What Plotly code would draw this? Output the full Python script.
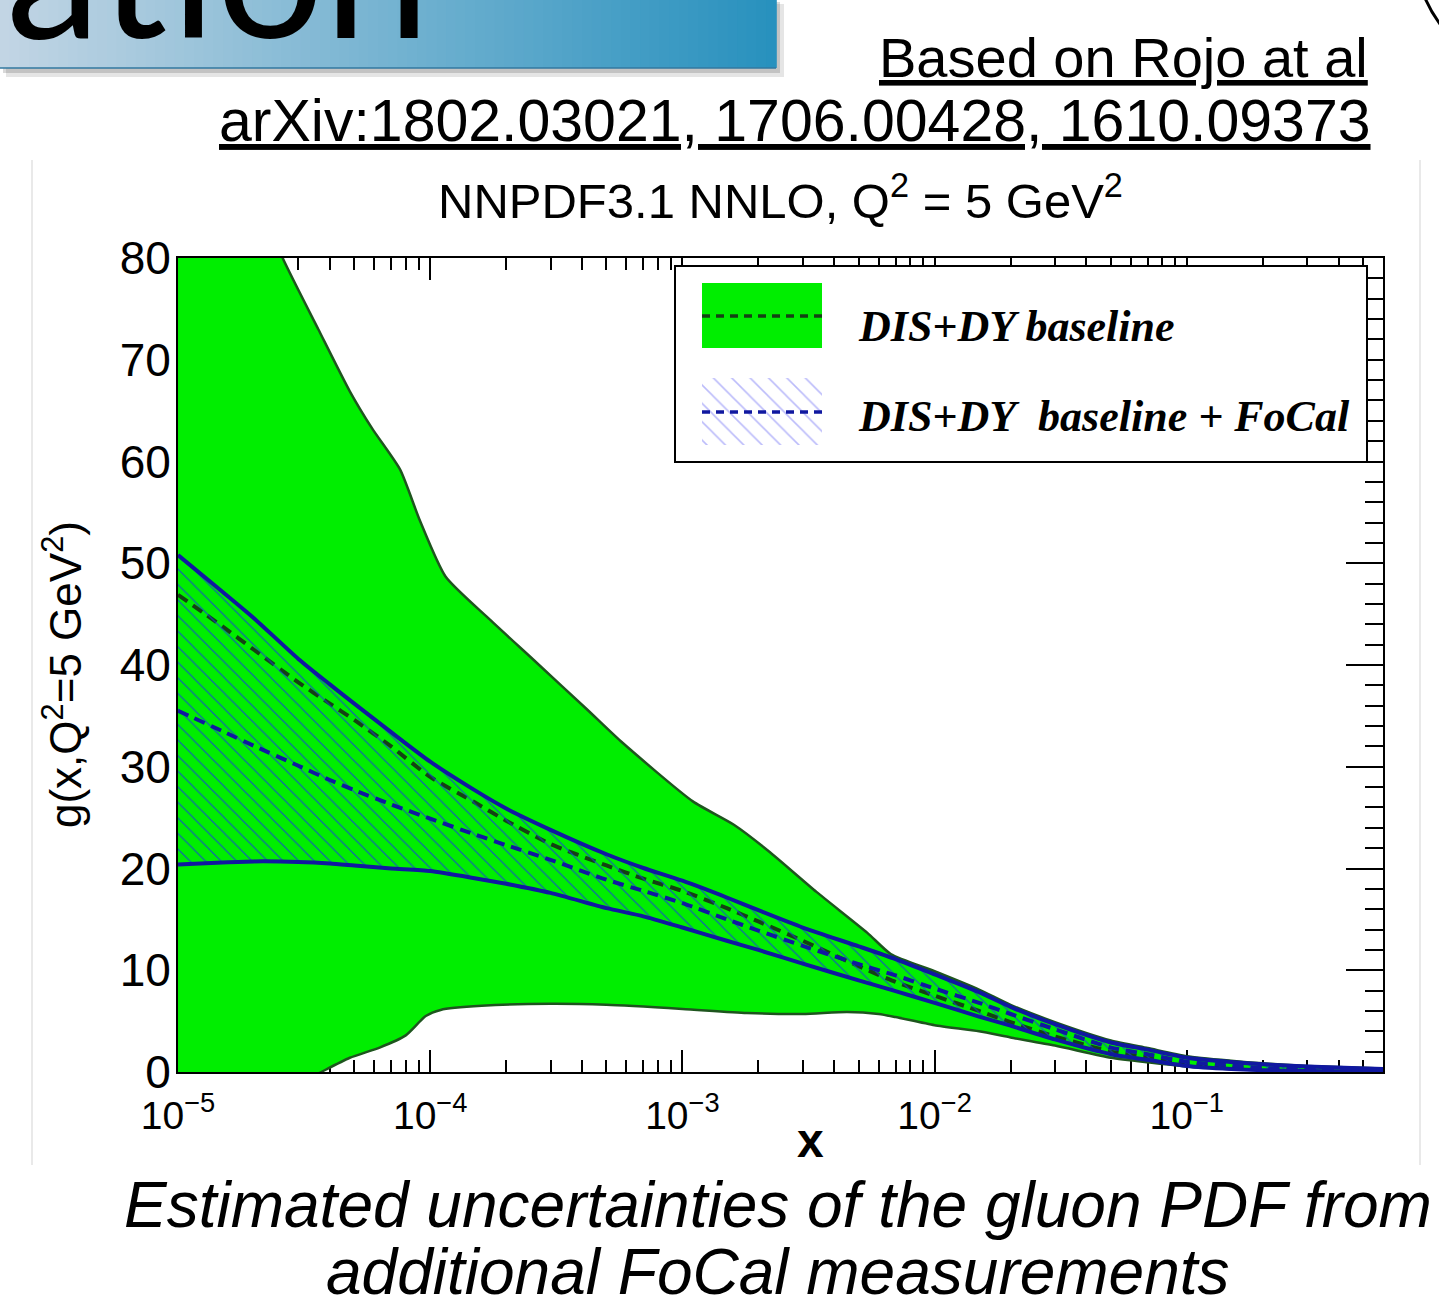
import plotly.graph_objects as go

# ---------------------------------------------------------------- data ----
# x grid shared by the central values and the FoCal band
x_grid = [1e-5, 1.5e-5, 2e-5, 3e-5, 4e-5, 5e-5, 7e-5, 1e-4, 1.5e-4, 2e-4, 3e-4,
          5e-4, 7e-4, 1e-3, 1.5e-3, 2e-3, 3e-3, 5e-3, 7e-3, 1e-2, 1.5e-2, 2e-2,
          3e-2, 5e-2, 7e-2, 0.1, 0.15, 0.2, 0.3, 0.45, 0.6]

# DIS+DY baseline + FoCal: upper / lower edge and central value
focal_upper = [50.8, 47.2, 44.6, 40.6, 38.1, 36.2, 33.4, 30.5, 27.7, 25.9, 23.8,
               21.4, 20.05, 18.8, 17.15, 15.9, 14.2, 12.35, 11.1, 9.6, 7.85, 6.4,
               4.7, 2.9, 2.2, 1.4, 0.98, 0.75, 0.55, 0.4, 0.3]
focal_lower = [20.4, 20.6, 20.7, 20.65, 20.5, 20.3, 20.0, 19.75, 19.05, 18.5, 17.6,
               16.1, 15.3, 14.2, 12.9, 12.0, 10.65, 9.0, 7.95, 6.8, 5.45, 4.55,
               3.2, 1.75, 1.2, 0.6, 0.3, 0.18, 0.1, 0.06, 0.04]
focal_central = [35.5, 33.5, 32.05, 30.1, 28.7, 27.7, 26.3, 24.9, 23.35, 22.3, 20.85,
                 18.9, 17.8, 16.6, 15.0, 13.9, 12.4, 10.6, 9.5, 8.2, 6.8, 5.7,
                 4.2, 2.4, 1.75, 1.0, 0.65, 0.38, 0.28, 0.2, 0.15]

# DIS+DY baseline central value
base_central = [46.9, 43.8, 41.5, 38.3, 36.2, 34.6, 32.0, 29.0, 26.5, 24.7, 22.4,
                20.3, 19.0, 17.8, 16.1, 14.8, 12.9, 10.4, 8.85, 7.5, 6.0, 4.9,
                3.5, 2.0, 1.4, 0.8, 0.45, 0.28, 0.18, 0.12, 0.1]

# DIS+DY baseline band edges (own x sampling)
base_upper_x = [1e-5, 1.5e-5, 2e-5, 2.6e-5, 3.6e-5, 4.8e-5, 5.9e-5, 7.6e-5, 9.1e-5,
                1.15e-4, 1.7e-4, 2.65e-4, 4.2e-4, 5.7e-4, 1.1e-3, 1.6e-3, 2.2e-3,
                3.4e-3, 5.4e-3, 6.7e-3, 1e-2, 1.5e-2, 2e-2, 3e-2, 5e-2, 7e-2, 0.1,
                0.15, 0.2, 0.3, 0.45, 0.6]
base_upper = [105, 95, 87, 80.0, 73.0, 66.9, 63.2, 59.2, 54.2, 48.7, 44.6, 40.2,
              35.6, 32.5, 26.6, 24.3, 21.7, 17.7, 13.7, 11.6, 9.9, 8.1, 6.6, 4.9,
              3.1, 2.35, 1.55, 1.1, 0.85, 0.6, 0.45, 0.35]
base_lower_x = [1e-5, 2e-5, 3.7e-5, 4.8e-5, 6.3e-5, 8e-5, 9.6e-5, 1.1e-4, 1.6e-4,
                3e-4, 5e-4, 1e-3, 1.8e-3, 3e-3, 4.5e-3, 6e-3, 7e-3, 1e-2, 1.5e-2,
                2e-2, 3e-2, 5e-2, 7e-2, 0.1, 0.15, 0.2, 0.3, 0.45, 0.6]
base_lower = [-9, -3.5, 0.0, 1.4, 2.4, 3.6, 5.5, 6.1, 6.5, 6.7, 6.6, 6.2, 5.8, 5.7,
              5.9, 5.7, 5.4, 4.6, 4.0, 3.4, 2.6, 1.4, 0.95, 0.55, 0.28, 0.16,
              0.08, 0.04, 0.03]

# axis ticks
x_major = [1e-5, 1e-4, 1e-3, 1e-2, 1e-1]
x_major_text = ["10<sup>\u22125</sup>", "10<sup>\u22124</sup>", "10<sup>\u22123</sup>",
                "10<sup>\u22122</sup>", "10<sup>\u22121</sup>"]
x_minor = [m * d for d in (1e-5, 1e-4, 1e-3, 1e-2, 1e-1) for m in range(2, 10)
           if m * d <= 0.6]
y_major = [0, 10, 20, 30, 40, 50, 60, 70, 80]

# ------------------------------------------------------------- styling ----
W, H = 1439, 1316
L, R, T, B = 178, 56, 258, 244
PW, PH = W - L - R, H - T - B


def px(x):
    return (x - L) / PW


def py(y):
    return (H - B - y) / PH


GREEN = "#00EE00"
GREEN_EDGE = "rgb(30,85,30)"
GREEN_DASH = "rgb(20,65,20)"
NAVY = "rgb(16,24,160)"
SANS = "Liberation Sans, Arial, Helvetica, sans-serif"
SERIF = "Liberation Serif, Times New Roman, serif"
SPL = dict(shape="spline", smoothing=0.6)

fig = go.Figure()

# baseline band
fig.add_trace(go.Scatter(
    x=base_upper_x + base_lower_x[::-1], y=base_upper + base_lower[::-1],
    fill="toself", fillcolor=GREEN, mode="lines",
    line=dict(width=0, **SPL), hoverinfo="skip"))
fig.add_trace(go.Scatter(x=base_upper_x, y=base_upper, mode="lines",
                         line=dict(color=GREEN_EDGE, width=2.5, **SPL)))
fig.add_trace(go.Scatter(x=base_lower_x, y=base_lower, mode="lines",
                         line=dict(color=GREEN_EDGE, width=2.5, **SPL)))
fig.add_trace(go.Scatter(x=x_grid, y=base_central, mode="lines",
                         line=dict(color=GREEN_DASH, width=4, dash="11px,7px", **SPL)))

# FoCal band (hatched)
fig.add_trace(go.Scatter(
    x=x_grid + x_grid[::-1], y=focal_upper + focal_lower[::-1],
    fill="toself", fillcolor="rgba(0,0,0,0)", mode="lines",
    line=dict(width=0, **SPL),
    fillpattern=dict(shape="\\", fgcolor="rgb(20,70,210)", fgopacity=0.8,
                     bgcolor="rgba(0,0,0,0)", size=11, solidity=0.11),
    hoverinfo="skip"))
fig.add_trace(go.Scatter(x=x_grid, y=focal_upper, mode="lines",
                         line=dict(color=NAVY, width=4, **SPL)))
fig.add_trace(go.Scatter(x=x_grid, y=focal_lower, mode="lines",
                         line=dict(color=NAVY, width=4, **SPL)))
fig.add_trace(go.Scatter(x=x_grid, y=focal_central, mode="lines",
                         line=dict(color=NAVY, width=4, dash="11px,7px", **SPL)))

# ---------------------------------------------------------- legend box ----
LX0, LX1, LY0, LY1 = 676, 1366, 267, 461
fig.add_trace(go.Scatter(x=[LX0, LX1, LX1, LX0, LX0], y=[LY0, LY0, LY1, LY1, LY0],
                         xaxis="x2", yaxis="y2", fill="toself", fillcolor="white",
                         mode="lines", line=dict(width=0), hoverinfo="skip"))
fig.add_trace(go.Scatter(x=[702, 822, 822, 702, 702], y=[283, 283, 348, 348, 283],
                         xaxis="x2", yaxis="y2", fill="toself", fillcolor=GREEN,
                         mode="lines", line=dict(width=0), hoverinfo="skip"))
fig.add_trace(go.Scatter(x=[702, 822], y=[316, 316], xaxis="x2", yaxis="y2",
                         mode="lines", line=dict(color=GREEN_DASH, width=3.5, dash="8px,6px")))
fig.add_trace(go.Scatter(x=[702, 822, 822, 702, 702], y=[378, 378, 445, 445, 378],
                         xaxis="x2", yaxis="y2", fill="toself", fillcolor="rgba(0,0,0,0)",
                         fillpattern=dict(shape="\\", fgcolor="rgb(120,120,245)",
                                          bgcolor="white", size=13, solidity=0.12),
                         mode="lines", line=dict(width=0), hoverinfo="skip"))
fig.add_trace(go.Scatter(x=[702, 822], y=[412, 412], xaxis="x2", yaxis="y2",
                         mode="lines", line=dict(color=NAVY, width=3.5, dash="8px,6px")))

legend_font = dict(family=SERIF, size=44, color="black", style="italic", weight="bold")
annotations = [
    dict(x=856, y=326, xref="x2", yref="y2", text="DIS+DY baseline",
         xanchor="left", yanchor="middle", showarrow=False, font=legend_font),
    dict(x=856, y=416, xref="x2", yref="y2",
         text="DIS+DY\u00a0\u00a0baseline + FoCal",
         xanchor="left", yanchor="middle", showarrow=False, font=legend_font),
]

# ------------------------------------------------------------- texts ------
annotations += [
    dict(x=px(780), y=py(197), xref="paper", yref="paper",
         text="NNPDF3.1 NNLO, Q<sup>2</sup> = 5 GeV<sup>2</sup>",
         showarrow=False, xanchor="center", yanchor="middle",
         font=dict(family=SANS, size=49, color="black")),
    dict(x=px(62), y=py(675), xref="paper", yref="paper",
         text="g(x,Q<sup>2</sup>=5 GeV<sup>2</sup>)", textangle=-90,
         showarrow=False, xanchor="center", yanchor="middle",
         font=dict(family=SANS, size=44, color="black")),
    dict(x=px(810), y=py(1140), xref="paper", yref="paper", text="<b>x</b>",
         showarrow=False, xanchor="center", yanchor="middle",
         font=dict(family=SANS, size=48, color="black")),
    dict(x=px(1370), y=py(58), xref="paper", yref="paper",
         text="Based on Rojo at al", showarrow=False,
         xanchor="right", yanchor="middle",
         font=dict(family=SANS, size=56, color="black", lineposition="under")),
    dict(x=px(1373), y=py(121), xref="paper", yref="paper",
         text="arXiv:1802.03021, 1706.00428, 1610.09373", showarrow=False,
         xanchor="right", yanchor="middle",
         font=dict(family=SANS, size=59, color="black", lineposition="under")),
    dict(x=px(778), y=py(1205), xref="paper", yref="paper",
         text="<i>Estimated uncertainties of the gluon PDF from</i>", showarrow=False,
         xanchor="center", yanchor="middle",
         font=dict(family=SANS, size=64, color="black")),
    dict(x=px(778), y=py(1272), xref="paper", yref="paper",
         text="<i>additional FoCal measurements</i>", showarrow=False,
         xanchor="center", yanchor="middle",
         font=dict(family=SANS, size=64, color="black")),
]

# --------------------------------------------------- slide decoration -----
shapes = []
# drop shadow of the slide title bar
shapes.append(dict(type="rect", xref="paper", yref="paper", layer="below",
                   x0=px(6), x1=px(784), y0=py(77), y1=py(4),
                   fillcolor="rgba(0,0,0,0.10)", line=dict(width=0)))
shapes.append(dict(type="rect", xref="paper", yref="paper", layer="below",
                   x0=px(3), x1=px(780), y0=py(73), y1=py(2),
                   fillcolor="rgba(0,0,0,0.15)", line=dict(width=0)))
# gradient title bar
c0, c1 = (194, 213, 228), (40, 145, 190)
n_steps = 80
bar_w = 776
for i in range(n_steps):
    t = i / (n_steps - 1)
    col = "rgb({},{},{})".format(*[round(a + (b - a) * t) for a, b in zip(c0, c1)])
    shapes.append(dict(type="rect", xref="paper", yref="paper", layer="below",
                       x0=px(bar_w * i / n_steps), x1=px(bar_w * (i + 1) / n_steps + 0.8),
                       y0=py(68), y1=py(-2), fillcolor=col, line=dict(width=0)))
shapes.append(dict(type="line", xref="paper", yref="paper", layer="below",
                   x0=px(0), x1=px(776), y0=py(68), y1=py(68),
                   line=dict(color="rgb(50,120,160)", width=1.5)))
# frame of the embedded figure
for xv in (32, 1420):
    shapes.append(dict(type="line", xref="paper", yref="paper", layer="below",
                       x0=px(xv), x1=px(xv), y0=py(160), y1=py(1165),
                       line=dict(color="#e2e2e2", width=1.5)))
# corner stroke at the top right
shapes.append(dict(type="path", xref="paper", yref="paper", layer="above",
                   path="M {} {} Q {} {} {} {}".format(px(1425), py(-2), px(1431), py(12),
                                                       px(1440), py(24)),
                   line=dict(color="black", width=3)))

annotations.append(dict(x=px(432), y=py(80), xref="paper", yref="paper",
                        text="ation", showarrow=False, xanchor="right", yanchor="bottom",
                        font=dict(family="Lato, Open Sans, sans-serif", size=190,
                                  color="black")))

# ------------------------------------------------------------- layout -----
tick_font = dict(family=SANS, size=46, color="black")
fig.update_layout(
    width=W, height=H,
    margin=dict(l=L, r=R, t=T, b=B, pad=0),
    paper_bgcolor="white", plot_bgcolor="white",
    showlegend=False,
    shapes=shapes, annotations=annotations,
    xaxis=dict(type="log", range=[-5, -0.222], showgrid=False, zeroline=False,
               showline=True, linecolor="black", linewidth=2, mirror="allticks",
               ticks="inside", ticklen=22, tickwidth=2, tickcolor="black",
               tickmode="array", tickvals=x_major, ticktext=x_major_text,
               tickfont=dict(family=SANS, size=39, color="black"),
               ticklabelstandoff=8, layer="below traces",
               minor=dict(tickmode="array", tickvals=x_minor, ticks="inside",
                          ticklen=12, tickwidth=2, tickcolor="black")),
    yaxis=dict(range=[0, 80], showgrid=False, zeroline=False,
               showline=True, linecolor="black", linewidth=2, mirror="allticks",
               ticks="inside", ticklen=37, tickwidth=2, tickcolor="black",
               tickmode="array", tickvals=y_major, tickfont=tick_font,
               ticklabelstandoff=-4, layer="below traces",
               minor=dict(dtick=2, ticks="inside", ticklen=18, tickwidth=2,
                          tickcolor="black")),
    xaxis2=dict(domain=[px(LX0), px(LX1)], range=[LX0, LX1], anchor="y2",
                showline=True, mirror=True, linecolor="black", linewidth=2,
                showticklabels=False, ticks="", showgrid=False, zeroline=False),
    yaxis2=dict(domain=[py(LY1), py(LY0)], range=[LY1, LY0], anchor="x2",
                showline=True, mirror=True, linecolor="black", linewidth=2,
                showticklabels=False, ticks="", showgrid=False, zeroline=False),
)

fig.write_html("out.html")
